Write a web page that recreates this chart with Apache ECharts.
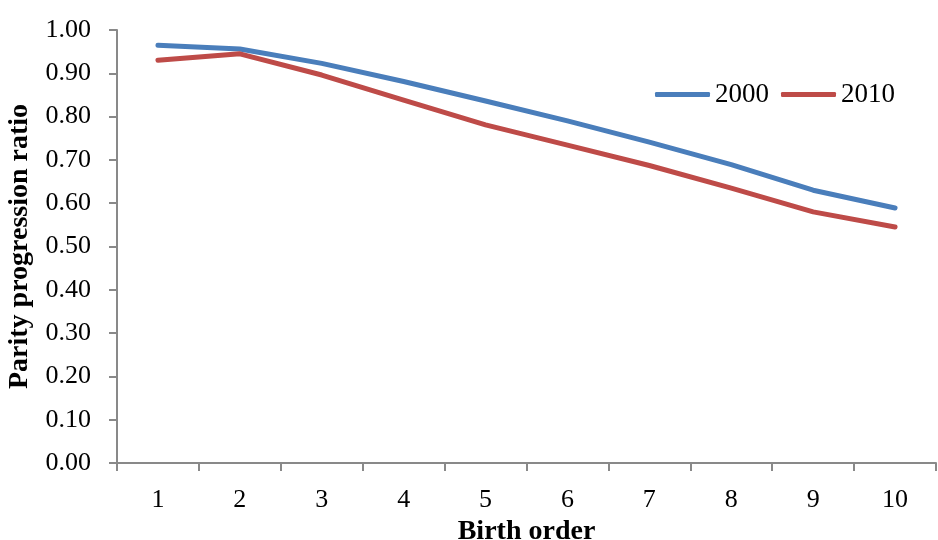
<!DOCTYPE html>
<html>
<head>
<meta charset="utf-8">
<script src="https://cdn.jsdelivr.net/npm/echarts@6/dist/echarts.min.js"></script>
<style>
  html, body { margin: 0; padding: 0; background: #fff; }
  #chart { width: 938px; height: 540px; }
</style>
</head>
<body>
<div id="chart"></div>
<script>
var birthOrder = ['1', '2', '3', '4', '5', '6', '7', '8', '9', '10'];
var ppr2000 = [0.965, 0.956, 0.923, 0.881, 0.836, 0.790, 0.741, 0.689, 0.630, 0.589];
var ppr2010 = [0.930, 0.945, 0.896, 0.838, 0.781, 0.734, 0.687, 0.635, 0.580, 0.545];

var font = '"Liberation Serif", "DejaVu Serif", serif';
var chart = echarts.init(document.getElementById('chart'));

var option = {
  animation: false,
  textStyle: { fontFamily: font, color: '#000' },
  grid: { left: 117, right: 2, top: 30, bottom: 77, containLabel: false, outerBoundsMode: 'none' },
  legend: {
    top: 76,
    left: 650,
    itemWidth: 55,
    itemHeight: 5,
    itemGap: 12,
    icon: 'roundRect',
    textStyle: { fontFamily: font, fontSize: 27, color: '#000' },
    data: ['2000', '2010']
  },
  xAxis: {
    type: 'category',
    data: birthOrder,
    boundaryGap: true,
    name: 'Birth order',
    nameLocation: 'middle',
    nameGap: 54,
    nameTextStyle: { fontFamily: font, fontSize: 28, fontWeight: 'bold', color: '#000' },
    axisLine: { lineStyle: { color: '#898989', width: 2 } },
    axisTick: { show: true, length: 8, alignWithLabel: false, lineStyle: { color: '#898989', width: 2 } },
    axisLabel: { fontFamily: font, fontSize: 26, color: '#000', margin: 24 },
    splitLine: { show: false }
  },
  yAxis: {
    type: 'value',
    min: 0,
    max: 1,
    interval: 0.1,
    name: 'Parity progression ratio',
    nameLocation: 'middle',
    nameGap: 83,
    nameTextStyle: { fontFamily: font, fontSize: 28, fontWeight: 'bold', color: '#000' },
    axisLine: { show: true, lineStyle: { color: '#898989', width: 2 } },
    axisTick: { show: true, length: 8, lineStyle: { color: '#898989', width: 2 } },
    axisLabel: {
      fontFamily: font, fontSize: 26, color: '#000', margin: 26,
      formatter: function (v) { return v.toFixed(2); }
    },
    splitLine: { show: false }
  },
  series: [
    {
      name: '2000',
      type: 'line',
      data: ppr2000,
      showSymbol: false,
      symbol: 'none',
      color: '#4a7ebb',
      lineStyle: { width: 5, color: '#4a7ebb', cap: 'round', join: 'round' }
    },
    {
      name: '2010',
      type: 'line',
      data: ppr2010,
      showSymbol: false,
      symbol: 'none',
      color: '#be4b48',
      lineStyle: { width: 5, color: '#be4b48', cap: 'round', join: 'round' }
    }
  ]
};

chart.setOption(option);
</script>
</body>
</html>
